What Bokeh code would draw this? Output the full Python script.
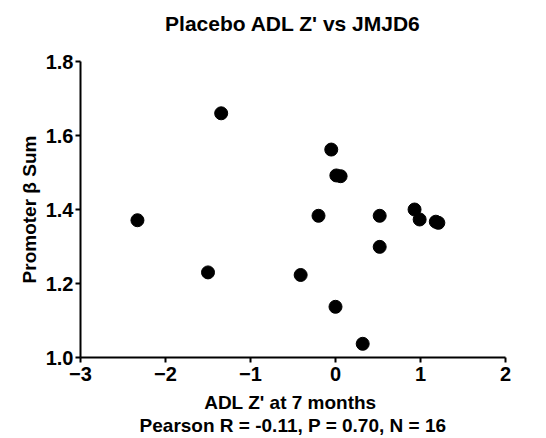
from bokeh.plotting import figure
from bokeh.models import Range1d, FixedTicker, ColumnDataSource, Title
from bokeh.embed import file_html
from bokeh.resources import INLINE

adl_z = [-2.33, -1.50, -1.345, -0.41, -0.20, -0.05, 0.00, 0.01, 0.06, 0.32, 0.52, 0.52, 0.93, 0.99, 1.18, 1.21]
beta_sum = [1.371, 1.230, 1.660, 1.223, 1.383, 1.562, 1.137, 1.492, 1.490, 1.037, 1.383, 1.299, 1.400, 1.373, 1.367, 1.364]
x_ticks = [-3, -2, -1, 0, 1, 2]
y_ticks = [1.0, 1.2, 1.4, 1.6, 1.8]
title_text = "Placebo ADL Z' vs JMJD6"

FONT = "Liberation Sans"

p = figure(width=538, height=438, output_backend="svg", toolbar_location=None,
           x_range=Range1d(-3, 2), y_range=Range1d(1.0, 1.8),
           min_border_left=80, min_border_right=33, min_border_top=61, min_border_bottom=81)

p.outline_line_color = None
p.grid.visible = False
p.background_fill_color = "white"
p.border_fill_color = "white"

src = ColumnDataSource(dict(x=adl_z, y=beta_sum))
p.scatter("x", "y", source=src, size=13, fill_color="black", line_color="black")

# spacer between frame and title, then the title itself
p.add_layout(Title(text=" ", text_font=FONT, text_font_size="12px", standoff=7), "above")
p.add_layout(Title(text=title_text, align="center", text_font=FONT, text_font_size="21px",
                   text_font_style="bold", text_color="black", standoff=8), "above")

for ax in (p.xaxis, p.yaxis):
    ax.axis_line_width = 2
    ax.axis_line_color = "black"
    ax.major_tick_line_width = 2
    ax.major_tick_line_color = "black"
    ax.major_tick_out = 5
    ax.major_tick_in = 0
    ax.minor_tick_line_color = None
    ax.major_label_text_font = FONT
    ax.major_label_text_font_size = "20px"
    ax.major_label_text_font_style = "bold"
    ax.major_label_text_color = "black"
    ax.axis_label_text_font = FONT
    ax.axis_label_text_font_size = "19px"
    ax.axis_label_text_font_style = "bold"
    ax.axis_label_text_color = "black"

p.xaxis.axis_label_text_line_height = 1.1
p.xaxis.ticker = FixedTicker(ticks=x_ticks)
p.yaxis.ticker = FixedTicker(ticks=y_ticks)
p.yaxis.major_label_overrides = {1.0: "1.0", 1.2: "1.2", 1.4: "1.4", 1.6: "1.6", 1.8: "1.8"}
p.xaxis.major_label_standoff = 4
p.yaxis.major_label_standoff = 2
p.xaxis.axis_label = "ADL  Z' at 7 months\nPearson R = -0.11, P = 0.70, N = 16"
p.yaxis.axis_label = "Promoter \u03b2 Sum"
p.xaxis.axis_label_standoff = 8
p.yaxis.axis_label_standoff = 3

open("out.html", "w").write(file_html(p, INLINE))
